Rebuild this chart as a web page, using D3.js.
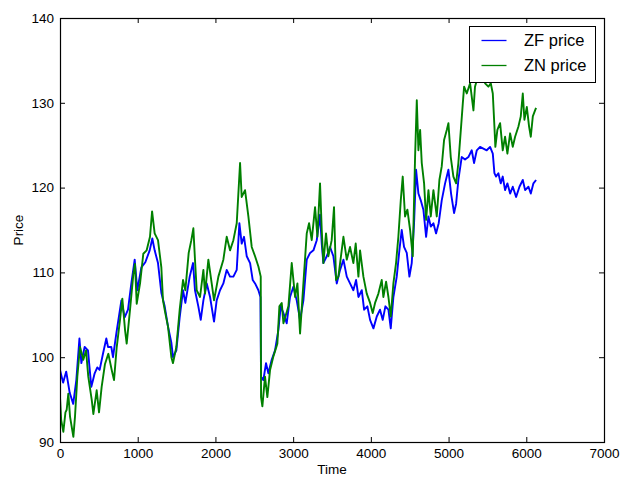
<!DOCTYPE html>
<html lang="en">
<head>
<meta charset="utf-8">
<title>ZF and ZN price</title>
<script src="https://cdn.jsdelivr.net/npm/d3@7"></script>
<style>
  body { margin: 0; background: #fff; }
  text { font-family: "Liberation Sans", Arial, sans-serif; fill: #000; }
</style>
</head>
<body>
<script>
// values (time index, price)
var zfTime = [0,40,80,125,170,210,250,275,317,360,403,425,446,480,510,553,596,618,660,682,725,790,832,875,918,961,995,1047,1098,1154,1188,1218,1261,1304,1347,1390,1433,1454,1497,1540,1583,1613,1669,1712,1737,1780,1811,1845,1888,1931,1982,2016,2059,2102,2145,2188,2231,2274,2308,2338,2368,2403,2446,2480,2510,2553,2579,2587,2617,2651,2681,2724,2767,2810,2840,2875,2917,2960,3003,3046,3089,3132,3175,3218,3261,3304,3346,3368,3389,3432,3475,3518,3561,3604,3647,3690,3732,3775,3810,3840,3883,3913,3955,3990,4033,4076,4118,4153,4187,4226,4256,4290,4333,4367,4397,4427,4462,4496,4526,4556,4582,4612,4642,4676,4711,4741,4771,4805,4839,4873,4912,4955,4998,5032,5071,5097,5126,5169,5212,5255,5298,5328,5363,5405,5448,5491,5534,5569,5590,5611,5641,5671,5697,5727,5757,5792,5826,5869,5912,5955,5985,6028,6058,6092,6126];
var zfPrice = [98.5,97.0,98.3,95.8,94.5,97.3,102.2,99.3,101.2,100.8,96.5,97.3,98.1,98.8,98.5,100.4,102.2,101.2,101.2,100.0,102.8,106.7,104.7,105.6,108.7,111.5,107.9,110.6,111.2,112.6,114.0,112.6,111.1,107.6,106.0,103.6,101.7,100.0,100.8,104.7,107.9,106.4,109.5,111.1,107.9,106.0,104.4,106.7,108.7,107.1,104.2,106.7,107.9,108.7,110.3,109.5,109.5,110.3,115.8,113.4,114.2,111.9,111.1,109.1,108.7,107.9,107.1,97.7,97.3,99.3,98.1,99.7,100.8,103.2,106.0,105.2,104.0,107.1,108.3,106.7,104.4,106.7,111.5,112.3,112.6,113.8,116.8,113.4,111.1,111.9,113.0,111.9,108.7,110.3,111.5,109.5,108.7,107.9,109.1,107.1,107.9,105.6,106.0,104.4,103.4,104.8,105.6,104.4,106.0,105.6,103.4,107.1,109.5,112.6,115.0,113.0,112.3,109.5,111.1,115.8,122.1,119.3,118.5,117.4,114.2,116.6,115.4,115.8,114.6,115.8,118.5,120.5,122.1,119.3,117.0,118.1,120.9,123.6,123.3,123.6,124.4,122.9,124.4,124.8,124.6,124.4,124.8,124.0,121.7,121.3,121.7,120.5,121.3,119.7,120.5,119.3,120.1,118.9,120.1,120.9,119.7,120.1,119.3,120.5,120.9];

var znTime = [0,15,43,70,86,107,129,172,193,223,257,300,335,364,408,429,472,502,536,579,622,665,695,730,772,802,837,858,901,944,965,987,1030,1072,1115,1158,1185,1218,1261,1304,1325,1355,1390,1433,1454,1497,1540,1583,1613,1656,1690,1716,1737,1759,1802,1845,1866,1909,1952,1982,2038,2102,2145,2188,2231,2274,2317,2338,2381,2424,2467,2510,2553,2583,2587,2604,2638,2668,2703,2746,2797,2823,2853,2875,2939,2982,3025,3055,3089,3132,3175,3205,3239,3282,3312,3346,3368,3389,3423,3453,3496,3526,3552,3582,3625,3647,3690,3732,3775,3805,3840,3861,3904,3947,3990,4024,4054,4097,4140,4161,4196,4226,4256,4290,4324,4354,4385,4410,4440,4470,4505,4539,4569,4591,4612,4634,4655,4685,4711,4741,4771,4805,4848,4882,4912,4942,4977,4998,5028,5062,5097,5126,5148,5183,5200,5234,5277,5320,5340,5390,5430,5470,5512,5543,5569,5590,5602,5628,5663,5697,5727,5757,5792,5826,5856,5899,5929,5955,5976,6007,6036,6058,6084,6113,6126];
var znPrice = [95.3,92.6,91.2,93.5,93.8,95.7,93.0,90.6,93.0,97.7,101.2,99.7,100.8,97.7,95.0,93.3,96.1,93.5,96.5,99.2,100.4,98.5,97.3,101.2,104.4,106.9,103.2,101.6,105.6,109.8,111.0,106.3,108.7,112.2,112.6,114.2,117.2,114.6,113.8,110.6,106.7,105.2,103.6,100.0,99.3,101.2,105.6,109.1,107.9,112.3,113.8,115.2,111.5,107.9,107.1,110.3,107.5,111.5,108.7,106.7,109.5,111.5,114.2,112.6,113.8,115.8,122.9,118.9,119.7,116.6,113.0,111.9,110.7,109.5,95.3,94.2,97.7,95.3,98.5,100.1,101.6,106.0,106.4,104.0,106.0,111.1,107.1,108.7,102.8,108.7,114.6,115.8,113.8,117.7,114.2,120.5,115.0,111.1,114.6,111.9,113.8,117.7,109.1,109.5,112.6,114.2,111.5,113.0,111.1,113.4,109.5,112.6,109.5,107.5,106.4,105.2,106.4,107.5,109.1,107.1,108.9,107.1,104.8,108.7,111.1,114.2,118.5,121.3,116.6,117.4,115.0,111.9,123.6,130.3,124.4,126.8,122.9,120.5,116.2,119.7,116.6,119.7,116.6,120.9,122.5,125.6,126.8,127.6,123.6,121.3,120.5,122.9,125.6,129.9,131.9,131.1,132.3,129.1,131.9,133.5,134.0,132.3,131.9,132.3,131.1,127.2,124.8,126.8,127.6,124.4,126.0,124.0,126.4,124.8,126.0,127.2,128.4,131.1,128.0,129.5,127.2,126.0,128.4,129.1,129.4];

var xTicks = [0,1000,2000,3000,4000,5000,6000,7000];
var yTicks = [90,100,110,120,130,140];
var seriesNames = ["ZF price", "ZN price"];
var seriesColors = ["#0000ff", "#008000"];

var width = 621, height = 477;
var marginLeft = 60, marginTop = 18, plotW = 544, plotH = 424;

var svg = d3.select("body").append("svg").attr("width", width).attr("height", height);
var g = svg.append("g").attr("transform", "translate(" + marginLeft + "," + marginTop + ")");

var x = d3.scaleLinear().domain([0, 7000]).range([0, plotW]);
var y = d3.scaleLinear().domain([90, 140]).range([plotH, 0]);

g.append("clipPath").attr("id", "clip")
  .append("rect").attr("width", plotW).attr("height", plotH);

var line = d3.line().x(function (d) { return x(d[0]); }).y(function (d) { return y(d[1]); });

var zf = zfTime.map(function (t, i) { return [t, zfPrice[i]]; });
var zn = znTime.map(function (t, i) { return [t, znPrice[i]]; });

[zf, zn].forEach(function (s, i) {
  g.append("path")
    .datum(s)
    .attr("clip-path", "url(#clip)")
    .attr("fill", "none")
    .attr("stroke", seriesColors[i])
    .attr("stroke-width", 1.9)
    .attr("stroke-linejoin", "round")
    .attr("d", line);
});

// axes, ticks pointing inward on all four sides
function styleAxis(sel) {
  sel.select(".domain").remove();
  sel.selectAll("line").attr("stroke", "#000");
  sel.selectAll("text").style("font-size", "13.5px").style("font-family", "Liberation Sans, Arial, sans-serif");
}
g.append("g").attr("transform", "translate(0," + plotH + ")")
  .call(d3.axisBottom(x).tickValues(xTicks).tickSize(-5).tickPadding(6).tickFormat(d3.format("d")))
  .call(styleAxis);
g.append("g")
  .call(d3.axisLeft(y).tickValues(yTicks).tickSize(-5).tickPadding(6).tickFormat(d3.format("d")))
  .call(styleAxis);
g.append("g")
  .call(d3.axisTop(x).tickValues(xTicks).tickSize(-5).tickFormat(""))
  .call(styleAxis);
g.append("g").attr("transform", "translate(" + plotW + ",0)")
  .call(d3.axisRight(y).tickValues(yTicks).tickSize(-5).tickFormat(""))
  .call(styleAxis);

g.append("rect")
  .attr("x", 0.5).attr("y", 0.5)
  .attr("width", plotW).attr("height", plotH)
  .attr("fill", "none").attr("stroke", "#000").attr("stroke-width", 1.2);

// axis labels
svg.append("text")
  .attr("x", marginLeft + plotW / 2).attr("y", 474)
  .attr("text-anchor", "middle")
  .style("font-size", "13.5px")
  .text("Time");
svg.append("text")
  .attr("transform", "translate(23," + (marginTop + plotH / 2) + ") rotate(-90)")
  .attr("text-anchor", "middle")
  .style("font-size", "13.5px")
  .text("Price");

// legend
var lg = svg.append("g").attr("transform", "translate(469.5,26.5)");
lg.append("rect").attr("width", 126).attr("height", 56)
  .attr("fill", "#fff").attr("stroke", "#000").attr("stroke-width", 1);
seriesNames.forEach(function (name, i) {
  var yy = 14 + i * 25;
  lg.append("line").attr("x1", 12).attr("x2", 37).attr("y1", yy).attr("y2", yy)
    .attr("stroke", seriesColors[i]).attr("stroke-width", 1.3);
  lg.append("text").attr("x", 54.5).attr("y", yy).attr("dy", "0.36em")
    .style("font-size", "16.5px").text(name);
});
</script>
</body>
</html>
